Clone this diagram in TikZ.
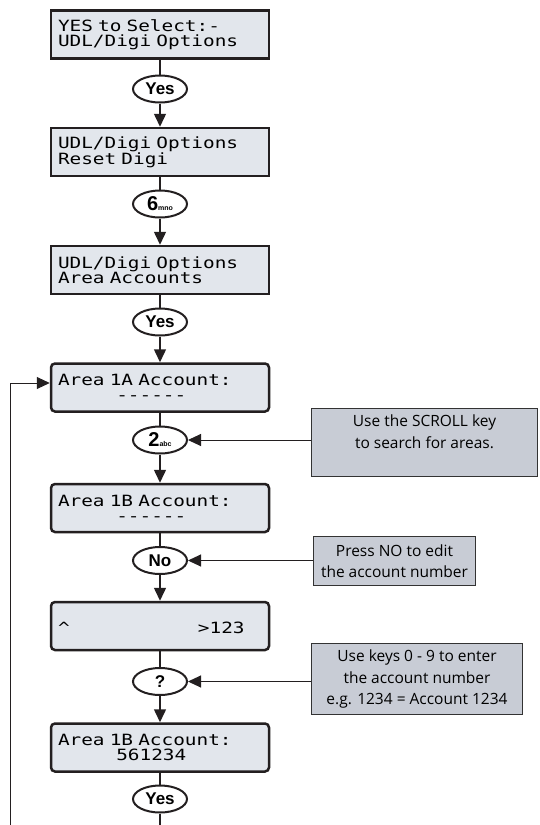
\documentclass[tikz,border=0pt]{standalone}
\usepackage{fontspec}
\setsansfont{Liberation Sans}
\newfontfamily\lcdfont[FakeStretch=1.25,Ligatures=TeXOff]{DejaVu Sans Mono}
\newfontfamily\notefont{Open Sans}
\usetikzlibrary{arrows.meta,shapes.geometric}
\definecolor{lcdFill}{RGB}{226,230,236}
\definecolor{noteFill}{RGB}{200,204,213}
\definecolor{lineDark}{RGB}{35,31,32}

\begin{document}
\begin{tikzpicture}[
    x=1pt, y=-1pt,
    display/.style={rectangle, draw=lineDark, line width=2.5pt, fill=lcdFill, minimum width=218pt, minimum height=48pt, text width=204pt, align=left, inner sep=0pt, font=\lcdfont\fontsize{15.5}{15}\selectfont},
    edit display/.style={display, rounded corners=4pt},
    key/.style={ellipse, draw=lineDark, line width=2pt, fill=white, minimum width=54pt, minimum height=27pt, inner sep=0pt, font=\sffamily\bfseries\fontsize{17}{17}\selectfont},
    note/.style={rectangle, draw=black!80, line width=0.9pt, fill=noteFill, align=center, inner sep=0pt, font=\notefont\fontsize{15.5}{21.5}\selectfont},
    flow/.style={draw=lineDark, line width=2.5pt},
    step arrow/.style={draw=lineDark, line width=1.5pt, -{Triangle[length=13pt,width=12pt]}},
    hint arrow/.style={draw=lineDark, line width=1pt, -{Triangle[length=13pt,width=12pt]}}
]
  \useasboundingbox (0,0) rectangle (539,825);

  \node[display] (b1) at (160,34.5) {YES to Select:-\\UDL/Digi Options};
  \node[key] (e1) at (160,89) {Yes};
  \node[display] (b2) at (160,152) {UDL/Digi Options\\Reset Digi};
  \node[key] (e2) at (160,204) {\fontsize{20}{20}\selectfont 6{\fontsize{7}{7}\selectfont mno}};
  \node[display] (b3) at (160,270) {UDL/Digi Options\\Area Accounts};
  \node[key] (e3) at (160,322) {Yes};
  \node[edit display] (b4) at (160,387.5) {Area 1A Account:\\\hphantom{00000}------};
  \node[key] (e4) at (160,440) {\fontsize{20}{20}\selectfont 2{\fontsize{7}{7}\selectfont abc}};
  \node[edit display] (b5) at (160,508) {Area 1B Account:\\\hphantom{00000}------};
  \node[key] (e5) at (160,560.5) {No};
  \node[edit display] (b6) at (160,626) {\mbox{}\\\textasciicircum\hphantom{00000000000}>123};
  \node[key] (e6) at (160,681.5) {?};
  \node[edit display] (b7) at (160,747.5) {Area 1B Account:\\\hphantom{00000}561234};
  \node[key] (e7) at (160,799) {Yes};

  \node[note, minimum width=226pt, minimum height=68pt] (scroll) at (424.5,442.5) {Use the SCROLL key\\to search for areas.\\\mbox{}};
  \node[note, minimum width=162pt, minimum height=49pt] (press) at (394.5,561) {Press NO to edit\\the account number};
  \node[note, minimum width=211pt, minimum height=71pt] (digits) at (417,679) {Use keys 0 - 9 to enter\\the account number\\e.g. 1234 = Account 1234};

  \coordinate (loop) at (10,825);
  \coordinate (exit) at (160,825);

  \draw[flow] (b1) -- (e1);
  \draw[step arrow] (e1) -- (b2);
  \draw[flow] (b2) -- (e2);
  \draw[step arrow] (e2) -- (b3);
  \draw[flow] (b3) -- (e3);
  \draw[step arrow] (e3) -- (b4);
  \draw[flow] (b4) -- (e4);
  \draw[step arrow] (e4) -- (b5);
  \draw[flow] (b5) -- (e5);
  \draw[step arrow] (e5) -- (b6);
  \draw[flow] (b6) -- (e6);
  \draw[step arrow] (e6) -- (b7);
  \draw[flow] (b7) -- (e7);
  \draw[step arrow, -] (e7) -- (exit);

  \draw[hint arrow] (scroll.west |- e4) -- (e4);
  \draw[hint arrow] (press.west |- e5) -- (e5);
  \draw[hint arrow] (digits.west |- e6) -- (e6);
  \draw[hint arrow] (loop) |- ([yshift=4.5pt]b4.west);
\end{tikzpicture}
\end{document}
